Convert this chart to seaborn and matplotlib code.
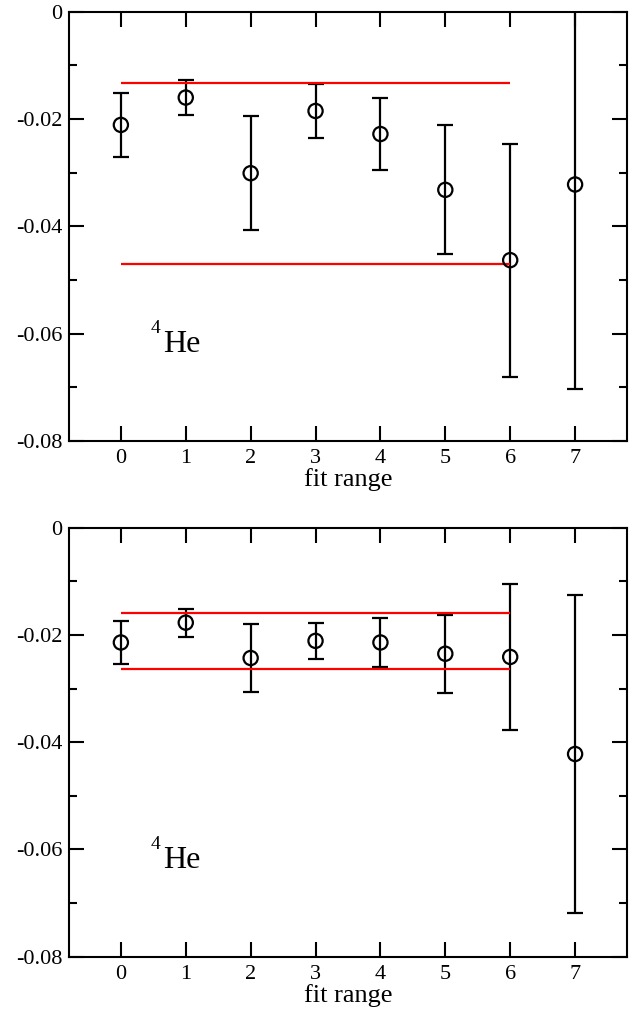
import numpy as np
import pandas as pd
import seaborn as sns
import matplotlib
matplotlib.use("Agg")
import matplotlib.pyplot as plt
from matplotlib.ticker import FixedLocator, FixedFormatter, MultipleLocator

# ---- data ----
fit_range = [0, 1, 2, 3, 4, 5, 6, 7]

top_values = [-0.0211, -0.0160, -0.0301, -0.0185, -0.0228, -0.0332, -0.0463, -0.0322]
top_errors = [0.0059, 0.0032, 0.0106, 0.0050, 0.0067, 0.0120, 0.0217, 0.0382]
top_band = [-0.0132, -0.0470]

bottom_values = [-0.0214, -0.0177, -0.0243, -0.0211, -0.0214, -0.0235, -0.0241, -0.0422]
bottom_errors = [0.0040, 0.0026, 0.0064, 0.0033, 0.0046, 0.0073, 0.0136, 0.0297]
bottom_band = [-0.0159, -0.0264]

band_x = [0, 6]

yticks = [0.0, -0.02, -0.04, -0.06, -0.08]
ytick_labels = ["0", "-0.02", "-0.04", "-0.06", "-0.08"]
xticks = [0, 1, 2, 3, 4, 5, 6, 7]
xtick_labels = ["0", "1", "2", "3", "4", "5", "6", "7"]
xlabel = "fit range"
panel_label_sup = "4"
panel_label_main = "He"

# ---- style ----
sns.set_style("ticks")
plt.rcParams["font.family"] = ["Liberation Serif", "DejaVu Serif"]
plt.rcParams["axes.unicode_minus"] = False

fig = plt.figure(figsize=(6.44, 10.17), dpi=100)
ax_top = fig.add_axes([0.1071, 0.5664, 0.8665, 0.4221])
ax_bot = fig.add_axes([0.1071, 0.0593, 0.8665, 0.4218])


def draw_panel(ax, values, errors, band):
    df = pd.DataFrame({"x": fit_range, "y": values, "err": errors})
    ax.errorbar(df["x"], df["y"], yerr=df["err"], fmt="none", ecolor="black",
                elinewidth=1.6, capsize=5.5, capthick=1.6, zorder=2, clip_on=True)
    for yb in band:
        ax.hlines(yb, band_x[0], band_x[1], colors="#ff0000", linewidth=1.6, zorder=3)
    sns.scatterplot(data=df, x="x", y="y", ax=ax, marker="o", s=105,
                    facecolor="none", edgecolor="black", linewidth=1.6, zorder=4)
    ax.set_xlim(-0.8, 7.8)
    ax.set_ylim(-0.08, 0.0)
    ax.xaxis.set_major_locator(FixedLocator(xticks))
    ax.xaxis.set_major_formatter(FixedFormatter(xtick_labels))
    ax.yaxis.set_major_locator(FixedLocator(yticks))
    ax.yaxis.set_major_formatter(FixedFormatter(ytick_labels))
    ax.yaxis.set_minor_locator(MultipleLocator(0.01))
    ax.tick_params(axis="both", which="major", direction="in", length=11, width=1.5,
                   top=True, right=True, labelsize=16, color="black", labelcolor="black")
    ax.tick_params(axis="y", which="minor", direction="in", length=6, width=1.5,
                   left=True, right=True, color="black")
    ax.tick_params(axis="x", which="major", pad=6)
    ax.tick_params(axis="y", which="major", pad=5)
    for sp in ax.spines.values():
        sp.set_visible(True)
        sp.set_linewidth(1.5)
        sp.set_color("black")
    ax.set_xlabel(xlabel, fontsize=19, labelpad=0, color="black")
    ax.set_ylabel("")
    ax.text(0.1464, 0.2516, panel_label_sup, transform=ax.transAxes, fontsize=14,
            ha="left", va="baseline", color="black")
    ax.text(0.168, 0.2066, panel_label_main, transform=ax.transAxes, fontsize=23,
            ha="left", va="baseline", color="black")


draw_panel(ax_top, top_values, top_errors, top_band)
draw_panel(ax_bot, bottom_values, bottom_errors, bottom_band)

fig.savefig("out.png", dpi=100)
